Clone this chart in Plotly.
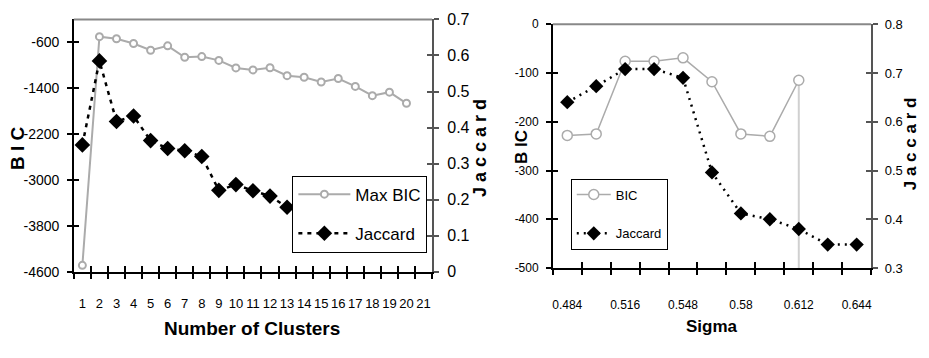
import plotly.graph_objects as go

# ---------------- data: left chart ----------------
clusters = list(range(1, 21))
cluster_labels = [str(i) for i in range(1, 22)]
max_bic = [-4486, -500, -537, -620, -737, -660, -860, -848, -914, -1045,
           -1080, -1042, -1180, -1208, -1291, -1230, -1368, -1529, -1468, -1662]
jaccard_clusters = list(range(1, 14))
jaccard_left = [0.352, 0.585, 0.417, 0.432, 0.364, 0.342, 0.336, 0.320, 0.226,
                0.242, 0.225, 0.210, 0.179]
left_bic_ticks = [-4600, -3800, -3000, -2200, -1400, -600]
left_bic_ticktext = ["-4600", "-3800", "-3000", "-2200", "-1400", "-600"]
left_jac_ticks = [0, 0.1, 0.2, 0.3, 0.4, 0.5, 0.6, 0.7]
left_jac_ticktext = ["0", "0.1", "0.2", "0.3", "0.4", "0.5", "0.6", "0.7"]

# ---------------- data: right chart ----------------
sigma = [0.484, 0.5, 0.516, 0.532, 0.548, 0.564, 0.58, 0.596, 0.612, 0.628, 0.644]
sigma_bic = [-228, -225, -76, -76, -69, -118, -225, -230, -115]
sigma_bic_drop = [0, 0, 0, 0, 0, 0, 0, 0, 400]
sigma_jac = [0.640, 0.673, 0.708, 0.708, 0.690, 0.496, 0.412, 0.400, 0.380, 0.348, 0.348]
sigma_ticks = [0.484, 0.516, 0.548, 0.58, 0.612, 0.644]
sigma_ticktext = ["0.484", "0.516", "0.548", "0.58", "0.612", "0.644"]
right_bic_ticks = [-500, -400, -300, -200, -100, 0]
right_bic_ticktext = ["-500", "-400", "-300", "-200", "-100", "0"]
right_jac_ticks = [0.3, 0.4, 0.5, 0.6, 0.7, 0.8]
right_jac_ticktext = ["0.3", "0.4", "0.5", "0.6", "0.7", "0.8"]

FONT = "Liberation Sans, Arial, sans-serif"
GRAY = "#ababab"
DARK = "#555555"

fig = go.Figure()

# left chart traces
fig.add_trace(go.Scatter(
    x=clusters, y=max_bic, name="Max BIC", xaxis="x", yaxis="y",
    mode="lines+markers", line=dict(color=GRAY, width=2),
    marker=dict(symbol="circle", size=7, color="white", line=dict(color=GRAY, width=2)),
    legend="legend", legendgroup="a"))
fig.add_trace(go.Scatter(
    x=jaccard_clusters, y=jaccard_left, name="Jaccard", xaxis="x", yaxis="y2",
    mode="lines+markers", line=dict(color="black", width=2.5, dash="4px,5px"),
    marker=dict(symbol="diamond", size=12, color="black"),
    legend="legend", legendgroup="b"))

# right chart traces
fig.add_trace(go.Scatter(
    x=sigma[:len(sigma_bic)], y=sigma_bic, name="BIC", xaxis="x2", yaxis="y3",
    mode="lines+markers", line=dict(color=GRAY, width=1.5),
    marker=dict(symbol="circle", size=10, color="white", line=dict(color=GRAY, width=1.5)),
    error_y=dict(type="data", symmetric=False, array=[0] * len(sigma_bic),
                 arrayminus=sigma_bic_drop, color="#d0d0d0", thickness=2, width=0),
    legend="legend2", legendgroup="c"))
fig.add_trace(go.Scatter(
    x=sigma, y=sigma_jac, name="Jaccard", xaxis="x2", yaxis="y4",
    mode="lines+markers", line=dict(color="black", width=2.5, dash="2px,5px"),
    marker=dict(symbol="diamond", size=11, color="black"),
    legend="legend2", legendgroup="d"))

# empty traces to anchor the overlay (tick-only) axes
for xa, ya in [("x3", "y"), ("x5", "y"), ("x", "y5"), ("x", "y6"),
               ("x4", "y3"), ("x6", "y3"), ("x2", "y7"), ("x2", "y8")]:
    fig.add_trace(go.Scatter(x=[None], y=[None], xaxis=xa, yaxis=ya, showlegend=False,
                             hoverinfo="skip"))

LX = [73 / 929, 432 / 929]
LY = [81 / 358, 346 / 358]
RX = [553 / 929, 872 / 929]
RY = [85 / 358, 341 / 358]


def ann(text, xp, yp, size, angle=0):
    return dict(text=text, x=xp / 929, y=1 - yp / 358, xref="paper", yref="paper",
                xanchor="center", yanchor="middle", textangle=angle, showarrow=False,
                font=dict(family=FONT, size=size, color="black"))


def tick_x(over, anchor, rng, t0, dt, side):
    return dict(overlaying=over, anchor=anchor, range=rng, tickmode="linear", tick0=t0,
                dtick=dt, ticks=side, ticklen=6, tickcolor="black", tickwidth=1.5,
                showticklabels=False, showline=False, showgrid=False, zeroline=False)


def tick_y(over, anchor, side, rng, vals, color):
    return dict(overlaying=over, anchor=anchor, side=side, range=rng, tickmode="array",
                tickvals=vals, ticks="inside", ticklen=5, tickcolor=color, tickwidth=1.5,
                showticklabels=False, showline=False, showgrid=False, zeroline=False)


fig.update_layout(
    width=929, height=358, margin=dict(l=0, r=0, t=0, b=0),
    paper_bgcolor="white", plot_bgcolor="white",
    font=dict(family=FONT, color="black"),
    # ---- left chart ----
    xaxis=dict(domain=LX, anchor="y", range=[0.5, 21.5], tickmode="array",
               tickvals=list(range(1, 22)), ticktext=cluster_labels, ticks="", tickangle=0,
               ticklabelstandoff=19, tickfont=dict(family=FONT, size=13),
               showline=True, linecolor="black", linewidth=1.5, showgrid=False, zeroline=False),
    xaxis3=tick_x("x", "y", [0.5, 21.5], 0.5, 1, "inside"),
    xaxis5=tick_x("x", "y", [0.5, 21.5], 0.5, 1, "outside"),
    yaxis=dict(domain=LY, anchor="x", range=[-4600, -200], tickmode="array",
               tickvals=left_bic_ticks, ticktext=left_bic_ticktext, ticks="outside", ticklen=5,
               tickcolor="black", tickwidth=1.5, ticklabelstandoff=5,
               tickfont=dict(family=FONT, size=14),
               showline=True, linecolor="black", linewidth=1.5, showgrid=False, zeroline=False),
    yaxis5=tick_y("y", "x", "left", [-4600, -200], left_bic_ticks, "black"),
    yaxis2=dict(overlaying="y", anchor="x", side="right", range=[0, 0.7], tickmode="array",
                tickvals=left_jac_ticks, ticktext=left_jac_ticktext, ticks="outside", ticklen=5,
                tickcolor=DARK, tickwidth=1.5, ticklabelstandoff=5,
                tickfont=dict(family=FONT, size=16),
                showline=True, linecolor=DARK, linewidth=2, showgrid=False, zeroline=False),
    yaxis6=tick_y("y", "x", "right", [0, 0.7], left_jac_ticks, DARK),
    # ---- right chart ----
    xaxis2=dict(domain=RX, anchor="y3", range=[0.476, 0.652], tickmode="array",
                tickvals=sigma_ticks, ticktext=sigma_ticktext, ticks="", tickangle=0,
                ticklabelstandoff=25, tickfont=dict(family=FONT, size=12),
                showline=True, linecolor="black", linewidth=1.5, showgrid=False, zeroline=False),
    xaxis4=tick_x("x2", "y3", [0.476, 0.652], 0.476, 0.016, "inside"),
    xaxis6=tick_x("x2", "y3", [0.476, 0.652], 0.476, 0.016, "outside"),
    yaxis3=dict(domain=RY, anchor="x2", range=[-500, 0], tickmode="array",
                tickvals=right_bic_ticks, ticktext=right_bic_ticktext, ticks="outside", ticklen=5,
                tickcolor="black", tickwidth=1.5, ticklabelstandoff=5,
                tickfont=dict(family=FONT, size=12),
                showline=True, linecolor="black", linewidth=1.5, showgrid=False, zeroline=False),
    yaxis7=tick_y("y3", "x2", "left", [-500, 0], right_bic_ticks, "black"),
    yaxis4=dict(overlaying="y3", anchor="x2", side="right", range=[0.3, 0.8], tickmode="array",
                tickvals=right_jac_ticks, ticktext=right_jac_ticktext, ticks="outside",
                ticklen=5, tickcolor=DARK, tickwidth=1.5, ticklabelstandoff=4,
                tickfont=dict(family=FONT, size=13),
                showline=True, linecolor=DARK, linewidth=2, showgrid=False, zeroline=False),
    yaxis8=tick_y("y3", "x2", "right", [0.3, 0.8], right_jac_ticks, DARK),
    legend=dict(x=292 / 929, y=1 - 176 / 358, xanchor="left", yanchor="top",
                bgcolor="white", bordercolor="black", borderwidth=1,
                font=dict(family=FONT, size=17), tracegroupgap=14, itemwidth=52),
    legend2=dict(x=571 / 929, y=1 - 179 / 358, xanchor="left", yanchor="top",
                 bgcolor="white", bordercolor="black", borderwidth=1,
                 font=dict(family=FONT, size=13), tracegroupgap=19, itemwidth=34),
    shapes=[
        dict(type="line", xref="x domain", yref="y domain", x0=0, x1=1, y0=1, y1=1,
             line=dict(color="#888888", width=2)),
        dict(type="line", xref="x2 domain", yref="y3 domain", x0=0, x1=1, y0=1, y1=1,
             line=dict(color="#888888", width=2)),
    ],
    annotations=[
        ann("<b>B I C</b>", 16, 147, 19, -90),
        ann("<b>J a c c a r d</b>", 480, 147, 18, -90),
        ann("<b>Number of Clusters</b>", 252, 337, 19),
        ann("<b>B IC</b>", 521, 146, 17, -90),
        ann("<b>J a c c a r d</b>", 911, 143, 17, -90),
        ann("<b>Sigma</b>", 713, 334, 17),
    ],
)

fig.write_html("out.html")
